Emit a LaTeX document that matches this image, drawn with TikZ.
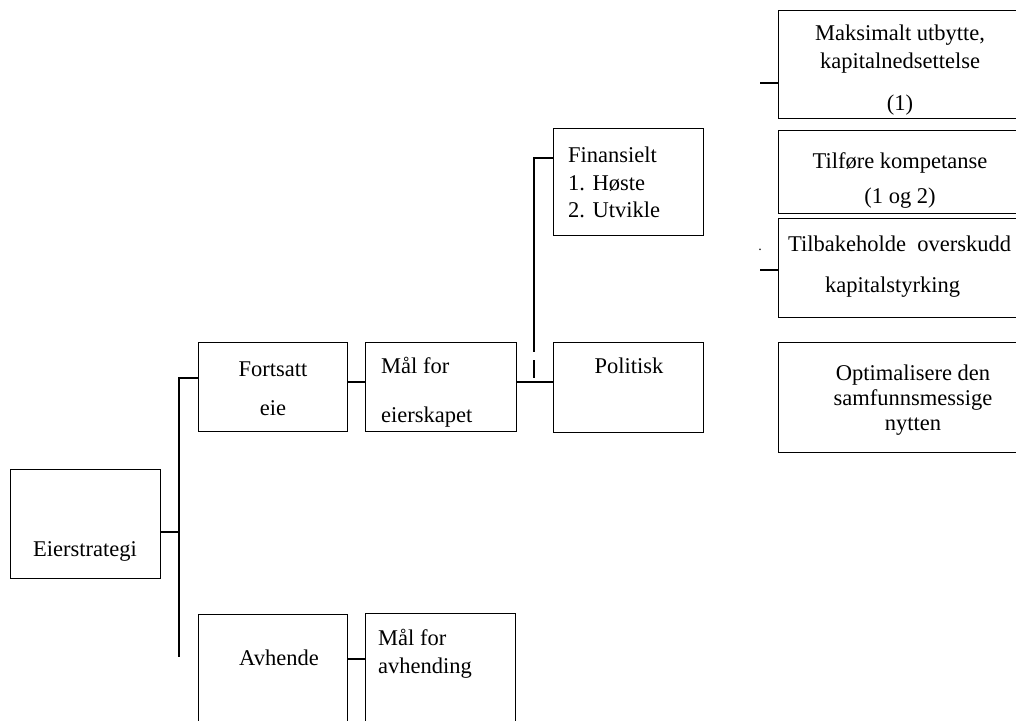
\documentclass[tikz,border=0pt]{standalone}
\usepackage{fontspec}
\setmainfont{Liberation Serif}
\usetikzlibrary{positioning, calc}

\tikzset{
  boks/.style={draw, line width=1.4pt, anchor=north west, inner sep=0pt},
  tekst/.style={font=\fontsize{22.5}{26}\selectfont, inner sep=0pt, anchor=base},
  venstre/.style={tekst, anchor=base west},
  linje/.style={line width=1.4pt},
}

\begin{document}
\begin{tikzpicture}[x=1pt, y=-1pt]
  \useasboundingbox (0,0) rectangle (1016,720);

  % boksene
  \node[boks, minimum width=150pt, minimum height=109pt] (eier) at (10,469) {};
  \node[boks, minimum width=149pt, minimum height=89pt] (fortsatt) at (198,342) {};
  \node[boks, minimum width=151pt, minimum height=89pt] (maaleie) at (365,342) {};
  \node[boks, minimum width=149pt, minimum height=140pt] (avhende) at (198,614) {};
  \node[boks, minimum width=150pt, minimum height=140pt] (maalavh) at (365,613) {};
  \node[boks, minimum width=150pt, minimum height=107pt] (finans) at (553,128) {};
  \node[boks, minimum width=150pt, minimum height=90pt] (politisk) at (553,342) {};
  \node[boks, minimum width=300pt, minimum height=108pt] (utbytte) at (778,10) {};
  \node[boks, minimum width=300pt, minimum height=83pt] (kompetanse) at (778,130) {};
  \node[boks, minimum width=300pt, minimum height=99pt] (tilbake) at (778,218) {};
  \node[boks, minimum width=300pt, minimum height=110pt] (optimal) at (778,342) {};

  % tekstene
  \node[tekst] (eierT) at (85,556) {Eierstrategi};
  \node[tekst] (fortsattT1) at (273,376) {Fortsatt};
  \node[tekst] (fortsattT2) at (273,415) {eie};
  \node[venstre] (maaleieT1) at (381,373) {Mål for};
  \node[venstre] (maaleieT2) at (381,422) {eierskapet};
  \node[tekst] (avhendeT) at (279,665) {Avhende};
  \node[venstre] (maalavhT1) at (378,645) {Mål for};
  \node[venstre] (maalavhT2) at (378,673) {avhending};
  \node[venstre] (finansT1) at (568,162) {Finansielt};
  \node[venstre] (finansT2) at (568,190) {1. Høste};
  \node[venstre] (finansT3) at (568,217) {2. Utvikle};
  \node[tekst] (politiskT) at (629,373) {Politisk};
  \node[tekst] (utbytteT1) at (900,40) {Maksimalt utbytte,};
  \node[tekst] (utbytteT2) at (900,68) {kapitalnedsettelse};
  \node[tekst] (utbytteT3) at (900,110) {(1)};
  \node[tekst] (kompetanseT1) at (900,168) {Tilføre kompetanse};
  \node[tekst] (kompetanseT2) at (900,203) {(1 og 2)};
  \node[venstre] (tilbakeT1) at (788,251) {Tilbakeholde\ \ overskudd};
  \node[venstre] (tilbakeT2) at (825,292) {kapitalstyrking};
  \node[tekst] (optimalT1) at (913,380) {Optimalisere den};
  \node[tekst] (optimalT2) at (913,405) {samfunnsmessige};
  \node[tekst] (optimalT3) at (913,430) {nytten};
  \node[tekst, font=\fontsize{14}{14}\selectfont] (prikk) at (760,250) {.};

  % linjene
  \coordinate (stamme) at (179,378);
  \coordinate (stammeBunn) at (179,657);
  \coordinate (eierKobl) at (179,532);
  \coordinate (eieKobl) at (356,382);
  \draw[linje] (stamme -| fortsatt.west) -- (stamme) -- (stammeBunn);
  \draw[linje] (eierKobl -| eier.east) -- (eierKobl);
  \draw[linje] (eieKobl -| fortsatt.east) -- (eieKobl -| maaleie.west);
  \draw[linje] ($(avhende.north east)+(0,45)$) -- ($(maalavh.north west)+(0,46)$);

  \coordinate (gren) at (534,382);
  \coordinate (finansKobl) at (534,158);
  \coordinate (brudd1) at (534,352);
  \coordinate (brudd2) at (534,360);
  \coordinate (brudd3) at (534,378);
  \draw[linje] (gren -| maaleie.east) -- (gren -| politisk.west);
  \draw[linje] (finansKobl -| finans.west) -- (finansKobl) -- (brudd1);
  \draw[linje] (brudd2) -- (brudd3);
  \draw[linje] ($(finans.east)+(0,-22)$) -- ($(finans.east)+(0,-22)$ -| kompetanse.west);

  \coordinate (stubb1) at (760,83);
  \coordinate (stubb2) at (760,270);
  \draw[linje] (stubb1) -- (stubb1 -| utbytte.west);
  \draw[linje] (stubb2) -- (stubb2 -| tilbake.west);
\end{tikzpicture}
\end{document}
